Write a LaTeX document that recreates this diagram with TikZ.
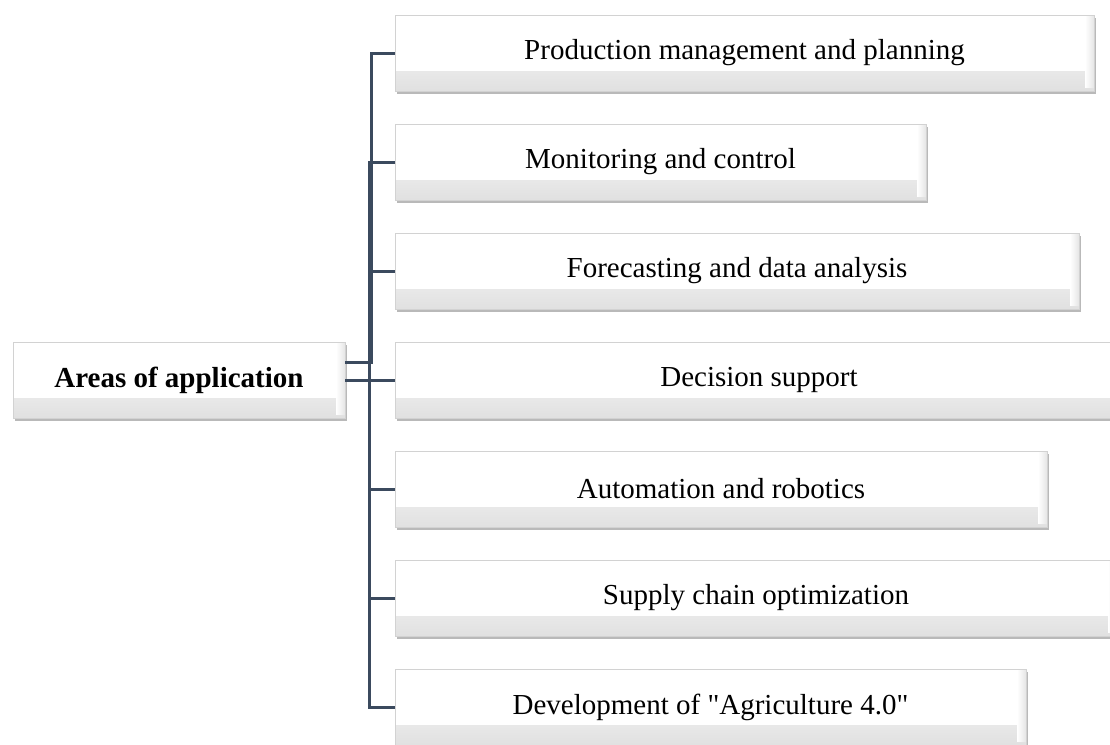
\documentclass[tikz,border=0pt]{standalone}
\usepackage{fontspec}
\setmainfont{Liberation Serif}
\usetikzlibrary{shadows}
\definecolor{linec}{HTML}{3B4A5E}
\tikzset{
  box/.style={draw=gray!35, line width=0.8pt, fill=white, minimum height=76pt,
    inner sep=0pt, outer sep=0pt, anchor=west,
    font=\fontsize{29}{34}\selectfont,
    drop shadow={shadow xshift=1.5pt, shadow yshift=-3pt, opacity=0.5, fill=black!55},
    path picture={
      \shade[top color=white, bottom color=gray!24]
        ([yshift=20pt]path picture bounding box.south west) rectangle (path picture bounding box.south east);
      \shade[left color=white, right color=gray!20]
        ([xshift=-9pt,yshift=4pt]path picture bounding box.south east) rectangle (path picture bounding box.north east);
    }},
  conn/.style={draw=linec, line width=3pt}
}
\begin{document}
\begin{tikzpicture}[x=1pt,y=-1pt]
\useasboundingbox (0,0) rectangle (1110,744);
\node[box, minimum width=332pt, font=\fontsize{29}{34}\selectfont\bfseries] (r) at (13,380) {Areas of application};
\node[box, minimum width=699pt] (b1) at (395,53) {Production management and planning};
\node[box, minimum width=531pt] (b2) at (395,162) {Monitoring and control};
\node[box, minimum width=684pt] (b3) at (395,271) {Forecasting and data analysis};
\node[box, minimum width=728pt] (b4) at (395,380) {Decision support};
\node[box, minimum width=652pt] (b5) at (395,489) {Automation and robotics};
\node[box, minimum width=722pt] (b6) at (395,598) {Supply chain optimization};
\node[box, minimum width=631pt] (b7) at (395,707) {Development of \textquotedbl Agriculture 4.0\textquotedbl};
\coordinate (t1) at (371,362);
\coordinate (t2) at (369,0);
\draw[conn] ([yshift=18pt]r.east) -- (t1) |- (b1.west);
\draw[conn] (b2.west) -- (b2.west -| t2) -- (b7.west -| t2) -- (b7.west);
\foreach \b in {b3,b5,b6} \draw[conn] (\b.west -| t2) -- (\b.west);
\draw[conn] (r.east) -- (b4.west);
\end{tikzpicture}
\end{document}
